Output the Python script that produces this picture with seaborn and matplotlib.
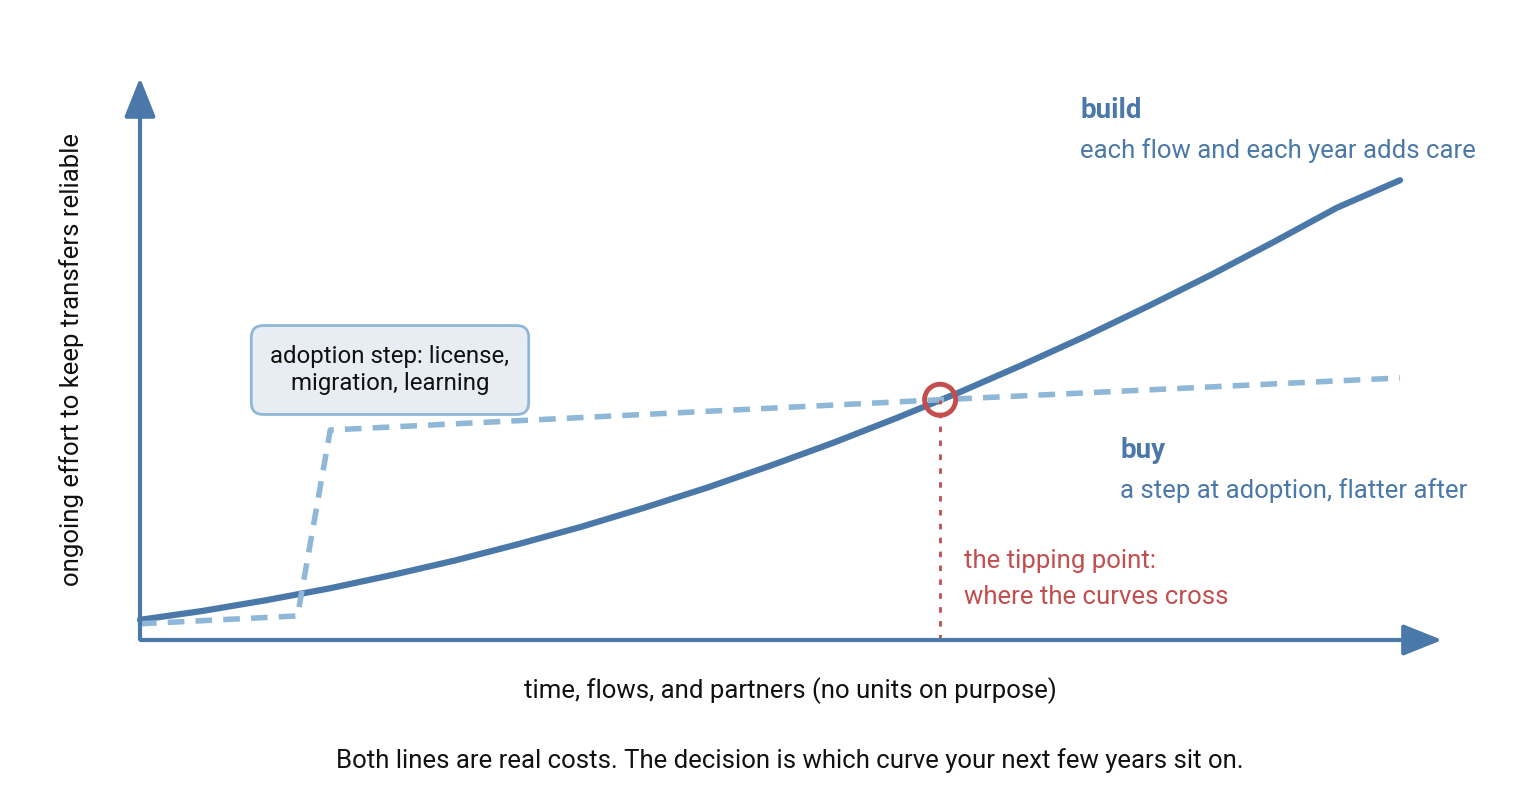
import seaborn as sns
import matplotlib.pyplot as plt
import pandas as pd

# data in abstract units (0..10 on both axes)
build_x = [0, 0.5, 1, 1.5, 2, 2.5, 3, 3.5, 4, 4.5, 5, 5.5, 6, 6.5, 7, 7.5, 8, 8.5, 9, 9.5, 10]
build_y = [0.36, 0.52, 0.71, 0.92, 1.16, 1.42, 1.71, 2.02, 2.36, 2.72, 3.11, 3.52, 3.96, 4.42,
           4.91, 5.42, 5.96, 6.52, 7.11, 7.72, 8.21]
buy_x = [0, 1.25, 1.51, 6.35, 10]
buy_y = [0.29, 0.43, 3.75, 4.29, 4.68]
cross_x, cross_y = 6.35, 4.29

sns.set_theme(style="white")
plt.rcParams['font.family'] = ['Roboto', 'DejaVu Sans']

BLUE = "#4a78a8"
LIGHT = "#8fb8d8"
RED = "#c44e4e"

fig = plt.figure(figsize=(15.2, 8), dpi=100)
ax = fig.add_axes([0, 0, 1, 1])
# pixel -> data: x = (px-140)/126, y = (640-py)/56
ax.set_xlim(-140 / 126, 1380 / 126)
ax.set_ylim(-160 / 56, 640 / 56)
ax.axis("off")

def P(px, py):
    return ((px - 140) / 126, (640 - py) / 56)

df_build = pd.DataFrame({"x": build_x, "y": build_y})
df_buy = pd.DataFrame({"x": buy_x, "y": buy_y})
sns.lineplot(data=df_build, x="x", y="y", ax=ax, color=BLUE, lw=4.5)
sns.lineplot(data=df_buy, x="x", y="y", ax=ax, color=LIGHT, lw=4)
ax.lines[-1].set_linestyle((0, (3, 2)))

# axes arrows
ax.annotate("", xy=P(1445, 640), xytext=P(138, 640),
            arrowprops=dict(arrowstyle="-|>,head_length=2,head_width=0.8", color=BLUE, lw=3))
ax.annotate("", xy=P(140, 75), xytext=P(140, 642),
            arrowprops=dict(arrowstyle="-|>,head_length=2,head_width=0.8", color=BLUE, lw=3))

# tipping point
ax.plot([cross_x, cross_x], [0, cross_y], color=RED, lw=2, ls=(0, (2, 3)))
ax.scatter([cross_x], [cross_y], s=500, facecolor="none", edgecolor=RED, linewidth=3.5, zorder=5)

ax.text(*P(1080, 110), "build", color=BLUE, fontsize=20, fontweight="bold", va="center")
ax.text(*P(1080, 151), "each flow and each year adds care", color=BLUE, fontsize=18.5, va="center")
ax.text(*P(1120, 451), "buy", color=BLUE, fontsize=20, fontweight="bold", va="center")
ax.text(*P(1120, 491), "a step at adoption, flatter after", color=BLUE, fontsize=18.5, va="center")
ax.text(*P(964, 561), "the tipping point:", color=RED, fontsize=18.5, va="center")
ax.text(*P(964, 597), "where the curves cross", color=RED, fontsize=18.5, va="center")

ax.text(*P(390, 370), "adoption step: license,\nmigration, learning", ha="center", va="center",
        fontsize=17.3, color="#111111", linespacing=1.25,
        bbox=dict(boxstyle="round,pad=0.8,rounding_size=0.5", facecolor="#e8edf3", edgecolor=LIGHT, lw=2))

ax.text(*P(72, 360), "ongoing effort to keep transfers reliable", rotation=90, ha="center", va="center",
        fontsize=18.5, color="#111111")
ax.text(*P(790, 691), "time, flows, and partners (no units on purpose)", ha="center", va="center",
        fontsize=18.5, color="#111111")
ax.text(*P(790, 761), "Both lines are real costs. The decision is which curve your next few years sit on.",
        ha="center", va="center", fontsize=18.5, color="#111111")

fig.savefig("out.png", dpi=100)
